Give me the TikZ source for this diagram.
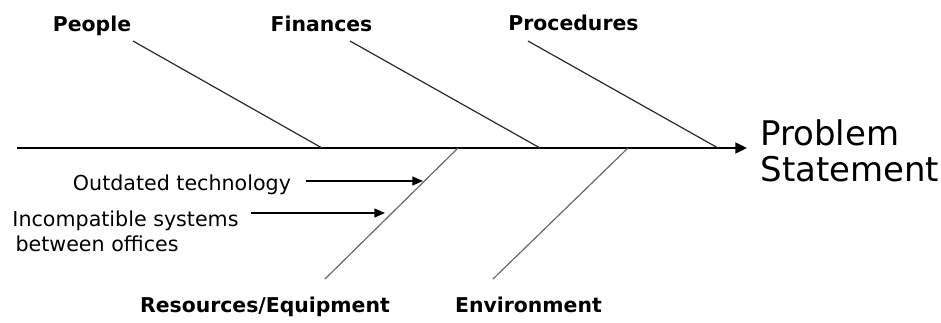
\documentclass[tikz,border=0pt]{standalone}
\usepackage{fontspec}
\setmainfont{DejaVu Sans}
\usetikzlibrary{arrows.meta}
\begin{document}
\begin{tikzpicture}[
        x=0.03cm,
        y=-0.03cm,
        thick,
        font=\fontsize{17.6}{21.3}\selectfont
    ]
    \tikzset{
        catlabel/.style = {inner sep=0, anchor=base, font=\bfseries\fontsize{17.4}{21}\selectfont},
        causelabel/.style = {inner sep=0, anchor=north west, align=left},
        bigtext/.style = {inner sep=0, anchor=north west, align=left, font=\fontsize{29}{30.7}\selectfont},
        bonet/.style = {-, line width=1pt, black!85},
        boneb/.style = {-, line width=1pt, black!60},
        spine/.style = {-{Triangle[length=10pt,width=9.4pt]}, line width=1.6pt},
        causearr/.style = {-{Triangle[length=9pt,width=7.5pt]}, line width=1.2pt},
    }
    \useasboundingbox (0,0) rectangle (941,322);
    %
    \coordinate (tail) at (17,148);
    \coordinate (head) at (747,148);
    \draw[spine] (tail) -- (head);
    \node[bigtext] at (760,119) (problem) {Problem\\Statement};
    %
    \node[catlabel] at (92,31) (people) {People};
    \node[catlabel] at (321.5,31) (finances) {Finances};
    \node[catlabel] at (573.5,30) (procedures) {Procedures};
    \node[catlabel] at (265,312) (resources) {Resources/Equipment};
    \node[catlabel] at (528.5,312) (environment) {Environment};
    %
    \coordinate (peopleA) at (133,41);
    \coordinate (peopleB) at (322,148);
    \coordinate (financesA) at (350,41);
    \coordinate (financesB) at (540,148);
    \coordinate (proceduresA) at (528,41);
    \coordinate (proceduresB) at (718,148);
    \coordinate (resourcesA) at (325,279);
    \coordinate (resourcesB) at (458,148);
    \coordinate (environmentA) at (493,279);
    \coordinate (environmentB) at (628,148);
    \draw[bonet] (peopleA) -- (peopleB);
    \draw[bonet] (financesA) -- (financesB);
    \draw[bonet] (proceduresA) -- (proceduresB);
    \draw[boneb] (resourcesA) -- (resourcesB);
    \draw[boneb] (environmentA) -- (environmentB);
    %
    \node[causelabel] at (72.5,174) (outdated) {Outdated technology};
    \node[causelabel] at (12,210.3) (incompat) {Incompatible systems\\\hspace*{0.15em}between offices};
    \coordinate (outdatedtip) at (423,181);
    \coordinate (incompattip) at (385,213);
    \draw[causearr, shorten <=12.5pt] (outdated.east |- outdatedtip) -- (outdatedtip);
    \draw[causearr, shorten <=10pt] (incompat.east |- incompattip) -- (incompattip);
\end{tikzpicture}
\end{document}
